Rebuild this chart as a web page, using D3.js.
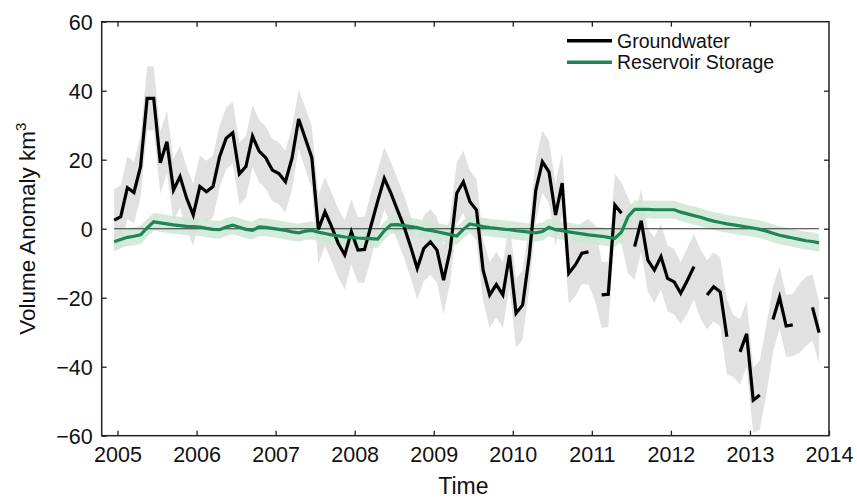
<!DOCTYPE html>
<html>
<head>
<meta charset="utf-8">
<script src="https://cdn.jsdelivr.net/npm/d3@7"></script>
<style>
  html, body { margin: 0; padding: 0; background: #fff; }
  svg { display: block; font-family: "Liberation Sans", Arial, Helvetica, sans-serif; }
</style>
</head>
<body>
<svg id="chart" width="857" height="498"></svg>
<script>
// Monthly series, first month centred just before 2005.0
const firstMonth = 2004.958;

// Groundwater storage anomaly (km^3); null = no estimate for that month
const groundwater = [
  2.5, 3.5, 11.9, 10.5, 18, 37.8, 37.8, 19.1, 25.2, 11.2, 15.1, 8.8,
  4.0, 12.2, 10.7, 12.2, 20.9, 26.2, 27.8, 15.9, 18, 26.8, 22.5, 20.6,
  17, 16, 13.6, 20.5, 31.8, 26.2, 20.6, -0.2, 4.9, 0.6, -4.2, -7.6,
  -0.9, -6.2, -6.0, 1, 8, 14.6, 10.3, 5.4, 0.6, -5.2, -11.5, -5.7,
  -3.8, -6.2, -14.9, -6.2, 10.3, 13.6, 7.8, 5.4, -12, -19.2, -16.2, -19.2,
  -7.6, -24.5, -22.1, -8, 11.2, 19.4, 16.5, 4, 13.2, -12.9, -10.5, -7.1,
  -6.7, null, -19.2, -19, 6.9, 4.5, null, -5.2, 2.3, -9.1, -12, -8.1,
  -14.4, -15.4, -18.7, -15, -11, null, -19.2, -16.8, -18.3, -31.3, null, -35.7,
  -30.5, -49.7, -48.2, null, -26.3, -19.9, -28.2, -27.9, null, null, -22.8, -30.1
];

// Centre of the groundwater uncertainty band in months without an estimate
const groundwaterGapBand = { 73: -10, 78: -2, 89: -16, 94: -34, 99: -38, 104: -26, 105: -24 };

// Half-width of the groundwater uncertainty band (km^3)
const groundwaterError = [
  9, 9, 9, 9, 9, 9.3, 9.3, 9, 9, 9, 9, 9,
  9, 9, 9, 9, 9, 9, 9, 9, 9, 9, 9, 9,
  9, 9, 9, 9, 8.5, 9, 9, 10, 10, 10, 10, 10,
  9.5, 9.5, 9.5, 9.5, 9, 9, 9, 9, 9, 9, 9, 9.5,
  9.5, 9.5, 10, 9.5, 9, 9, 9, 9, 9, 9.5, 9.5, 9.5,
  9.5, 10, 10, 9.5, 9, 9, 9, 9, 9, 9, 9, 9,
  9.5, 11, 9.5, 9.5, 9, 9, 11, 9.5, 9, 9, 9.5, 9.5,
  9.5, 9.5, 9, 9.5, 9.5, 10, 10, 10, 10, 11, 9, 9.5,
  9.5, 9.5, 10, 10, 9.5, 9, 9, 9, 10, 10, 9.5, 9
];

// Reservoir storage anomaly (km^3)
const reservoir = [
  -3.8, -3.1, -2.5, -2.2, -1.8, 0.2, 2.0, 1.7, 1.4, 1.1, 0.9, 0.7,
  0.6, 0.5, 0.1, -0.2, -0.3, 0.5, 1.0, 0.4, -0.2, -0.5, 0.5, 0.4,
  0.1, -0.2, -0.5, -0.9, -1.2, -0.7, -0.5, -1.0, -1.4, -1.8, -2.1, -2.4,
  -2.5, -2.7, -2.8, -2.9, -3.0, -0.6, 1.1, 1.2, 0.9, 0.6, 0.3, -0.2,
  -0.5, -0.9, -1.3, -1.7, -2.1, -0.2, 1.4, 1.0, 0.6, 0.3, 0.1, -0.1,
  -0.3, -0.6, -0.8, -1.0, -1.2, -0.8, 0.4, -0.3, -0.6, -0.9, -1.2, -1.5,
  -1.8, -2.0, -2.2, -2.5, -2.8, -1.0, 3.5, 5.6, 5.6, 5.6, 5.5, 5.5,
  5.5, 5.5, 4.8, 4.3, 3.8, 3.3, 2.7, 2.2, 1.8, 1.4, 1.1, 0.8,
  0.5, 0.2, -0.2, -0.7, -1.3, -1.9, -2.3, -2.7, -3.1, -3.5, -3.7, -4.1
];
const reservoirError = 2.6;

const yearTicks = [2005, 2006, 2007, 2008, 2009, 2010, 2011, 2012, 2013, 2014];
const valueTicks = [-60, -40, -20, 0, 20, 40, 60];
const seriesNames = ["Groundwater", "Reservoir Storage"];

const svg = d3.select("#chart");
const plotLeft = 101.7, plotRight = 829, plotTop = 21.7, plotBottom = 435.7;

const x = d3.scaleLinear().domain([2004.8, 2014]).range([plotLeft, plotRight]);
const y = d3.scaleLinear().domain([-60, 60]).range([plotBottom, plotTop]);
const tOf = i => firstMonth + i / 12;

const gwColor = "#000000";
const resColor = "#1e8656";

// Groundwater uncertainty band
const gwBand = groundwater.map((v, i) => {
  const c = v === null ? groundwaterGapBand[i] : v;
  return { t: tOf(i), lo: c - groundwaterError[i], hi: c + groundwaterError[i] };
});
svg.append("path")
  .datum(gwBand)
  .attr("fill", "#e1e1e1")
  .attr("d", d3.area().x(d => x(d.t)).y0(d => y(d.lo)).y1(d => y(d.hi)));

// Reservoir uncertainty band
svg.append("path")
  .datum(reservoir.map((v, i) => ({ t: tOf(i), v })))
  .attr("fill", "#cfe6d5")
  .attr("fill-opacity", 0.85)
  .attr("d", d3.area().x(d => x(d.t)).y0(d => y(d.v - reservoirError)).y1(d => y(d.v + reservoirError)));

// Zero reference line
svg.append("line")
  .attr("x1", x(tOf(0))).attr("x2", x(tOf(reservoir.length - 1)))
  .attr("y1", y(0)).attr("y2", y(0))
  .attr("stroke", "#333").attr("stroke-width", 1.1);

// Groundwater line with gaps
svg.append("path")
  .datum(groundwater.map((v, i) => ({ t: tOf(i), v })))
  .attr("fill", "none")
  .attr("stroke", gwColor)
  .attr("stroke-width", 3.2)
  .attr("stroke-linejoin", "miter")
  .attr("d", d3.line().defined(d => d.v !== null).x(d => x(d.t)).y(d => y(d.v)));

// Reservoir line
svg.append("path")
  .datum(reservoir.map((v, i) => ({ t: tOf(i), v })))
  .attr("fill", "none")
  .attr("stroke", resColor)
  .attr("stroke-width", 3.2)
  .attr("d", d3.line().x(d => x(d.t)).y(d => y(d.v)));

// Frame
svg.append("rect")
  .attr("x", plotLeft).attr("y", plotTop)
  .attr("width", plotRight - plotLeft).attr("height", plotBottom - plotTop)
  .attr("fill", "none").attr("stroke", "#222").attr("stroke-width", 1.5);

// Inward ticks on all four sides
const tickLen = 5;
const axisBottom = d3.axisBottom(x).tickValues(yearTicks).tickFormat(d3.format("d")).tickSizeInner(-tickLen).tickSizeOuter(0).tickPadding(12);
const gB = svg.append("g").attr("transform", `translate(0,${plotBottom})`).call(axisBottom);
const axisTop = d3.axisTop(x).tickValues(yearTicks.filter(d => d < 2014)).tickSizeInner(-tickLen).tickSizeOuter(0).tickFormat("");
const gT = svg.append("g").attr("transform", `translate(0,${plotTop})`).call(axisTop);
const axisLeft = d3.axisLeft(y).tickValues(valueTicks).tickFormat(d => d < 0 ? "\u2212" + Math.abs(d) : d).tickSizeInner(-tickLen).tickSizeOuter(0).tickPadding(9);
const gL = svg.append("g").attr("transform", `translate(${plotLeft},0)`).call(axisLeft);
const axisRight = d3.axisRight(y).tickValues(valueTicks.filter(d => d > -60 && d < 60)).tickSizeInner(-tickLen).tickSizeOuter(0).tickFormat("");
const gR = svg.append("g").attr("transform", `translate(${plotRight},0)`).call(axisRight);

[gB, gT, gL, gR].forEach(g => {
  g.select(".domain").remove();
  g.selectAll(".tick line").attr("stroke", "#222").attr("stroke-width", 1.3);
  g.selectAll(".tick text")
    .attr("fill", "#111")
    .style("font-family", "'Liberation Sans', Arial, sans-serif")
    .style("font-size", "21.5px");
});
gB.selectAll(".tick text").attr("dy", "0.68em");
gL.selectAll(".tick text").attr("dy", "0.35em");

// Axis titles
svg.append("text")
  .attr("x", (plotLeft + plotRight) / 2 - 2).attr("y", 494)
  .attr("text-anchor", "middle")
  .style("font-size", "23px").attr("fill", "#111")
  .text("Time");

const yTitle = svg.append("text")
  .attr("transform", `translate(35,${(plotTop + plotBottom) / 2}) rotate(-90)`)
  .attr("text-anchor", "middle")
  .style("font-size", "22.5px").attr("fill", "#111");
yTitle.append("tspan").text("Volume Anomaly km");
yTitle.append("tspan").attr("dy", -9).style("font-size", "15px").text("3");

// Legend
const legend = svg.append("g");
[gwColor, resColor].forEach((c, i) => {
  const ly = 40.7 + i * 21.6;
  legend.append("line")
    .attr("x1", 567).attr("x2", 612).attr("y1", ly).attr("y2", ly)
    .attr("stroke", c).attr("stroke-width", 3.5);
  legend.append("text")
    .attr("x", 617).attr("y", ly).attr("dy", "0.36em")
    .style("font-size", "19.5px").attr("fill", "#111")
    .text(seriesNames[i]);
});
</script>
</body>
</html>
